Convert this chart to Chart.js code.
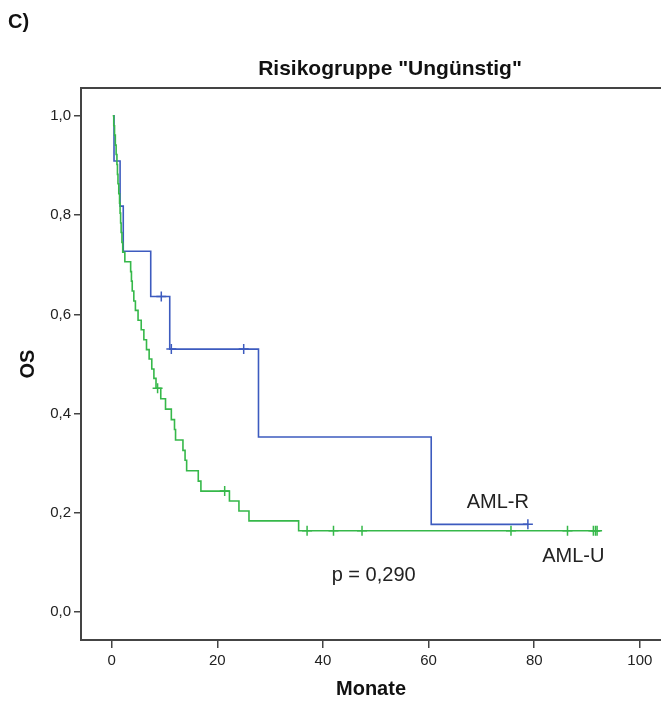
<!DOCTYPE html>
<html>
<head>
<meta charset="utf-8">
<script src="https://cdn.jsdelivr.net/npm/chart.js@4/dist/chart.umd.min.js"></script>
<style>
  html, body { margin: 0; padding: 0; background: #fff; overflow: hidden; }
  #wrap { width: 661px; height: 701px; }
</style>
</head>
<body>
<div id="wrap"><canvas id="myChart" width="661" height="701"></canvas></div>
<script>
const xTicks = [0, 20, 40, 60, 80, 100];
const yTicks = [0, 0.2, 0.4, 0.6, 0.8, 1.0];

// AML-R: times (months) and survival after each step
const amlRTimes = [0.3, 0.45, 1.6, 2.2, 7.4, 11.0, 27.8, 60.5, 78.8];
const amlRSurv = [1.0, 0.909, 0.818, 0.727, 0.636, 0.530, 0.353, 0.177, 0.177];
const amlRCensored = [9.4, 11.3, 25.0, 78.8];

// AML-U
const amlUTimes = [0.2, 0.4, 0.55, 0.7, 0.85, 1.0, 1.1, 1.2, 1.35, 1.5, 1.6, 1.7, 1.8, 1.95, 2.1,
  2.5, 3.6, 3.75, 3.9, 4.2, 4.5, 5.0, 5.6, 6.1, 6.6, 7.1, 7.6, 8.0, 8.4,
  9.3, 10.2, 11.3, 11.9, 12.1, 13.5, 13.9, 14.2, 16.4, 16.9, 22.3, 24.1, 26.0, 35.4, 92.5];
const amlUSurv = [1.0, 0.980, 0.961, 0.941, 0.922, 0.902, 0.882, 0.863, 0.843, 0.824, 0.804, 0.784, 0.765, 0.745, 0.725,
  0.706, 0.686, 0.667, 0.647, 0.627, 0.608, 0.588, 0.569, 0.549, 0.529, 0.510, 0.490, 0.471, 0.451,
  0.430, 0.409, 0.388, 0.368, 0.347, 0.326, 0.306, 0.285, 0.264, 0.244, 0.224, 0.204, 0.184, 0.164, 0.164];
const amlUCensored = [8.7, 21.4, 37.0, 42.0, 47.4, 75.6, 86.3, 91.2, 91.6, 91.9];

const blue = "#3d5bbf";
const green = "#36b84a";
const font = "'Liberation Sans', Arial, sans-serif";

// labels placed in data coordinates
const notes = [
  { text: "AML-R", x: 73.1, y: 0.222 },
  { text: "AML-U", x: 87.4, y: 0.113 },
  { text: "p = 0,290", x: 49.6, y: 0.073 },
];

function toPoints(times, surv) {
  return times.map((t, i) => ({ x: t, y: surv[i] }));
}

// survival value at time t, read from the step arrays
function survAt(times, surv, t) {
  let v = surv[0];
  for (let i = 0; i < times.length; i++) {
    if (times[i] <= t) v = surv[i];
  }
  return v;
}

const framePlugin = {
  id: "frame",
  beforeDatasetsDraw(chart) {
    const { ctx, chartArea } = chart;
    ctx.save();
    ctx.strokeStyle = "#444";
    ctx.lineWidth = 2;
    ctx.beginPath();
    ctx.moveTo(chartArea.left, chartArea.top);
    ctx.lineTo(chartArea.right, chartArea.top);
    ctx.stroke();
    ctx.restore();
  },
  afterDraw(chart) {
    const { ctx, scales } = chart;
    ctx.save();
    ctx.fillStyle = "#111";
    ctx.font = "bold 20px " + font;
    ctx.textAlign = "left";
    ctx.textBaseline = "middle";
    ctx.fillText("C)", 8, 22);
    ctx.textAlign = "center";
    ctx.font = "bold 21px " + font;
    ctx.fillText('Risikogruppe "Ungünstig"', 390, 69);
    ctx.font = "20px " + font;
    ctx.fillStyle = "#222";
    notes.forEach((n) => {
      ctx.fillText(n.text, scales.x.getPixelForValue(n.x), scales.y.getPixelForValue(n.y));
    });
    ctx.restore();
  },
};

const ctx = document.getElementById("myChart").getContext("2d");

new Chart(ctx, {
  type: "line",
  data: {
    datasets: [
      {
        label: "AML-U",
        data: toPoints(amlUTimes, amlUSurv),
        borderColor: green,
        borderWidth: 1.6,
        stepped: "before",
        pointRadius: 0,
        fill: false,
      },
      {
        label: "AML-R",
        data: toPoints(amlRTimes, amlRSurv),
        borderColor: blue,
        borderWidth: 1.6,
        stepped: "before",
        pointRadius: 0,
        fill: false,
      },
      {
        type: "scatter",
        label: "AML-U zensiert",
        data: amlUCensored.map((t) => ({ x: t, y: survAt(amlUTimes, amlUSurv, t) })),
        borderColor: green,
        pointStyle: "cross",
        pointRadius: 5,
        pointBorderWidth: 1.5,
        showLine: false,
      },
      {
        type: "scatter",
        label: "AML-R zensiert",
        data: amlRCensored.map((t) => ({ x: t, y: survAt(amlRTimes, amlRSurv, t) })),
        borderColor: blue,
        pointStyle: "cross",
        pointRadius: 5,
        pointBorderWidth: 1.5,
        showLine: false,
      },
    ],
  },
  options: {
    responsive: false,
    animation: false,
    devicePixelRatio: 1,
    layout: { autoPadding: false, padding: { top: 88, left: 0, right: 0, bottom: 0 } },
    plugins: {
      legend: { display: false },
      tooltip: { enabled: false },
    },
    scales: {
      x: {
        type: "linear",
        min: -5.8,
        max: 104,
        afterBuildTicks: (axis) => {
          axis.ticks = xTicks.map((v) => ({ value: v }));
        },
        afterFit: (axis) => {
          axis.height = 61;
        },
        ticks: {
          font: { family: font, size: 15 },
          color: "#222",
          padding: 4,
          maxRotation: 0,
        },
        grid: { drawOnChartArea: false, tickLength: 8, color: "#444", lineWidth: 1.5 },
        border: { color: "#444", width: 2 },
        title: {
          display: true,
          text: "Monate",
          font: { family: font, size: 20, weight: "bold" },
          color: "#111",
          padding: { top: 0, bottom: 0 },
        },
      },
      y: {
        type: "linear",
        min: -0.056,
        max: 1.056,
        afterBuildTicks: (axis) => {
          axis.ticks = yTicks.map((v) => ({ value: v }));
        },
        afterFit: (axis) => {
          axis.width = 81;
        },
        ticks: {
          font: { family: font, size: 15 },
          color: "#222",
          padding: 3,
          callback: (v) => v.toFixed(1).replace(".", ","),
        },
        grid: { drawOnChartArea: false, tickLength: 7, color: "#444", lineWidth: 1.5 },
        border: { color: "#444", width: 2 },
        title: {
          display: true,
          text: "OS",
          font: { family: font, size: 20, weight: "bold" },
          color: "#111",
          padding: { top: 16, bottom: 0 },
        },
      },
    },
  },
  plugins: [framePlugin],
});
</script>
</body>
</html>
